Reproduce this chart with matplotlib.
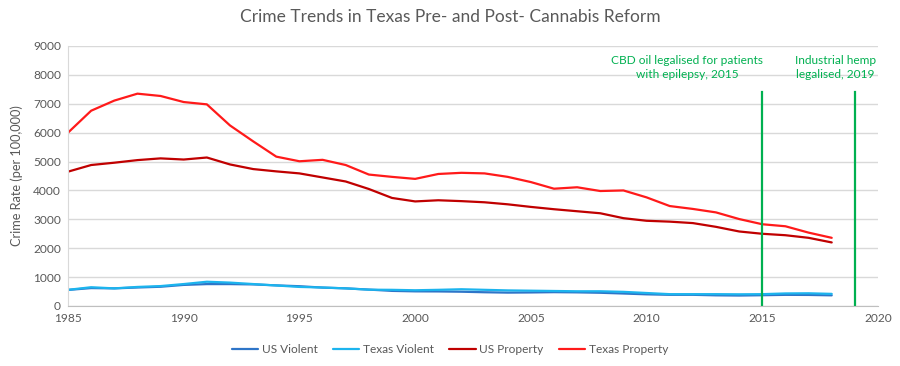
import matplotlib
matplotlib.use("Agg")
import matplotlib.pyplot as plt

years = list(range(1985, 2019))
us_violent = [556, 620, 610, 640, 666, 730, 758, 758, 747, 714, 685, 637, 611, 568, 523, 507,
              504, 494, 476, 463, 469, 479, 472, 458, 432, 404, 387, 387, 369, 362, 373, 386, 383, 369]
texas_violent = [560, 650, 610, 660, 690, 760, 840, 810, 760, 710, 660, 640, 610, 565, 560, 545,
                 560, 580, 560, 540, 530, 520, 510, 510, 490, 450, 410, 410, 410, 405, 410, 435, 440, 420]
us_property = [4650, 4880, 4960, 5050, 5110, 5070, 5140, 4900, 4740, 4660, 4590, 4450, 4310, 4050,
               3740, 3620, 3660, 3630, 3590, 3520, 3430, 3350, 3280, 3210, 3040, 2950, 2920, 2870,
               2740, 2580, 2500, 2450, 2360, 2200]
texas_property = [6000, 6760, 7110, 7350, 7270, 7060, 6980, 6250, 5700, 5170, 5010, 5060, 4880, 4550,
                  4470, 4400, 4570, 4610, 4590, 4470, 4290, 4060, 4110, 3980, 4000, 3760, 3460, 3360,
                  3240, 3010, 2830, 2760, 2540, 2360]

event_years = [2015, 2019]
event_top = 7400
event_labels = ["CBD oil legalised for patients\nwith epilepsy, 2015", "Industrial hemp\nlegalised, 2019"]
event_label_x = [2011.75, 2018.15]

series = [
    ("US Violent", us_violent, "#2E75C8"),
    ("Texas Violent", texas_violent, "#1CB4EE"),
    ("US Property", us_property, "#C00000"),
    ("Texas Property", texas_property, "#FF1A1A"),
]

plt.rcParams['font.family'] = ['Lato', 'DejaVu Sans']
fig = plt.figure(figsize=(9, 3.66), dpi=100)
ax = fig.add_axes([68/900, 1-306/366, (878-68)/900, (306-46)/366])

for name, vals, col in series:
    ax.plot(years, vals, color=col, lw=1.6, label=name, solid_capstyle='round')

green = "#00B050"
for ey in event_years:
    ax.plot([ey, ey], [0, event_top], color=green, lw=1.6)
for lx, lt in zip(event_label_x, event_labels):
    ax.text(lx, 8700, lt, color=green, fontsize=8.6, ha='center', va='top', linespacing=1.35)

ax.set_xlim(1985, 2020)
ax.set_ylim(0, 9000)
ax.set_xticks(range(1985, 2021, 5))
ax.set_yticks(range(0, 9001, 1000))
ax.grid(axis='y', color='#D9D9D9', lw=1)
ax.set_axisbelow(True)
for s in ['top', 'right']:
    ax.spines[s].set_visible(False)
ax.spines['left'].set_color('#D9D9D9')
ax.spines['bottom'].set_color('#BFBFBF')
ax.tick_params(length=0, colors='#595959', labelsize=8.6, pad=5)
ax.set_ylabel("Crime Rate (per 100,000)", color='#595959', fontsize=9.2, labelpad=7)

fig.suptitle("Crime Trends in Texas Pre- and Post- Cannabis Reform", y=0.975, fontsize=12.5, color='#595959')
fig.legend(loc='lower center', bbox_to_anchor=(0.5, 0.0), ncol=4, frameon=False, fontsize=8.6,
           labelcolor='#595959', handlelength=2.2, columnspacing=1.3, handletextpad=0.3)

fig.savefig("out.png", dpi=100, facecolor='white')
